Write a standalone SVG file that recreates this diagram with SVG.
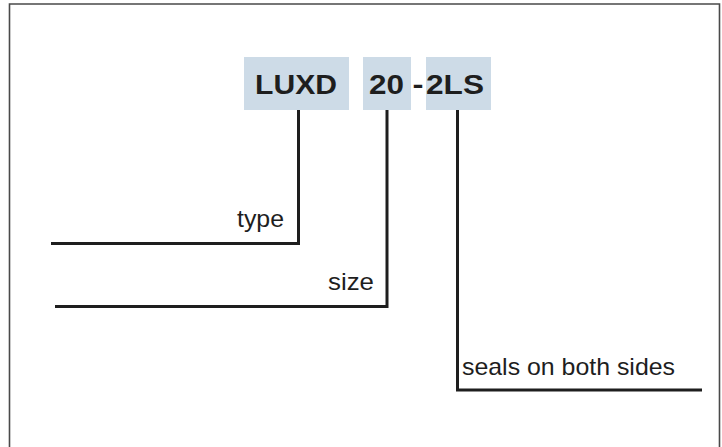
<svg xmlns="http://www.w3.org/2000/svg" width="722" height="447" viewBox="0 0 722 447">
<style>
.box{fill:#cddbe7}
.code{font-family:"Liberation Sans",Arial,sans-serif;font-weight:bold;font-size:28px;fill:#1e1e1e}
.lbl{font-family:"Liberation Sans",Arial,sans-serif;font-size:24px;fill:#1e1e1e}
.ln{fill:none;stroke:#1e1e1e;stroke-width:3}
</style>
<rect x="0" y="0" width="722" height="447" fill="#ffffff"/>
<path d="M9.5,450 V4 H719.5 V450" fill="none" stroke="#4a4a4a" stroke-width="1.6"/>
<g id="code-luxd">
<rect class="box" x="244" y="57" width="105" height="53"/>
<text class="code" x="255" y="94" textLength="82" lengthAdjust="spacingAndGlyphs">LUXD</text>
</g>
<g id="code-20">
<rect class="box" x="363" y="57" width="48" height="53"/>
<text class="code" x="369" y="94" textLength="35" lengthAdjust="spacingAndGlyphs">20</text>
</g>
<g id="dash">
<text class="code" x="412.5" y="94" textLength="11" lengthAdjust="spacingAndGlyphs">-</text>
</g>
<g id="code-2ls">
<rect class="box" x="426" y="57" width="65" height="53"/>
<text class="code" x="426" y="94" textLength="58" lengthAdjust="spacingAndGlyphs">2LS</text>
</g>
<g id="connectors">
<path class="ln" d="M51,243.5 H298.5 V110"/>
<path class="ln" d="M55,306.5 H387 V110"/>
<path class="ln" d="M457.5,110 V390 H702"/>
</g>
<g id="label-type">
<text class="lbl" x="284" y="227" text-anchor="end" textLength="47" lengthAdjust="spacingAndGlyphs">type</text>
</g>
<g id="label-size">
<text class="lbl" x="374" y="290" text-anchor="end" textLength="46" lengthAdjust="spacingAndGlyphs">size</text>
</g>
<g id="label-seals">
<text class="lbl" x="462" y="375" textLength="213" lengthAdjust="spacingAndGlyphs">seals on both sides</text>
</g>
</svg>
